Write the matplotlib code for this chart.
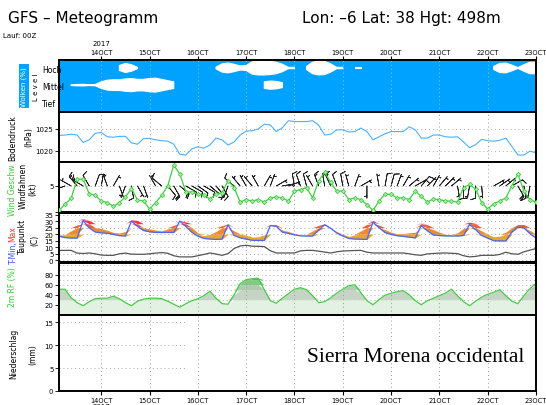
import numpy as np
import matplotlib.pyplot as plt

# forecast hours from 13OCT 00Z, 3-hourly
hours = np.arange(3, 241, 3)
day_hours = [24, 48, 72, 96, 120, 144, 168, 192, 216, 240]
day_labels = ['14OCT', '15OCT', '16OCT', '17OCT', '18OCT', '19OCT', '20OCT', '21OCT', '22OCT', '23OCT']

# cloud cover (%) per level
cloud_high = [0, 0, 0, 0, 0, 0, 0, 0, 0, 0,
              30, 55, 40, 8, 0, 0, 0, 0, 0, 0,
              0, 0, 0, 0, 0, 0, 10, 50, 60, 45,
              25, 30, 75, 85, 85, 80, 70, 45, 8, 8,
              0, 20, 70, 85, 80, 50, 8, 8, 0, 6,
              6, 0, 0, 0, 0, 0, 0, 0, 0, 0,
              0, 0, 0, 0, 0, 0, 0, 0, 0, 0,
              0, 0, 20, 55, 60, 35, 5, 40, 70, 70]
cloud_mid = [0, 0, 5, 8, 10, 5, 8, 40, 60, 65,
             65, 75, 80, 70, 70, 80, 85, 70, 55, 40,
             0, 0, 0, 0, 0, 0, 0, 0, 0, 0,
             0, 0, 0, 0, 40, 50, 45, 30, 0, 0,
             0, 0, 0, 0, 0, 0, 0, 0, 0, 0,
             0, 0, 0, 0, 0, 0, 0, 0, 0, 0,
             0, 0, 0, 0, 0, 0, 0, 0, 0, 0,
             0, 0, 0, 0, 0, 0, 0, 0, 0, 0]
cloud_low = [0] * 80

pressure = [1023.5, 1023.6, 1023.8, 1023.6, 1021.9, 1022.5, 1024.0, 1024.2, 1023.2, 1023.1,
            1023.3, 1023.3, 1021.8, 1021.5, 1022.8, 1022.8, 1022.5, 1022.3, 1022.2, 1021.5,
            1019.2, 1019.0, 1020.4, 1020.9, 1020.6, 1021.3, 1022.9, 1022.5, 1021.3, 1022.0,
            1023.6, 1024.5, 1024.6, 1025.0, 1026.1, 1025.9, 1024.4, 1025.3, 1026.9, 1026.7,
            1026.7, 1026.7, 1026.9, 1025.9, 1023.6, 1023.8, 1024.8, 1024.8, 1024.3, 1024.4,
            1025.2, 1024.4, 1022.5, 1023.2, 1023.9, 1024.4, 1024.4, 1024.4, 1025.5, 1024.8,
            1022.9, 1022.9, 1023.6, 1023.6, 1023.2, 1023.1, 1023.2, 1022.0, 1020.7, 1021.4,
            1022.6, 1022.3, 1022.2, 1022.4, 1022.9, 1021.0, 1019.0, 1019.0, 1019.9, 1019.5]

wind_speed = [0.3, 1.5, 2.6, 6.3, 6.3, 3.5, 3.2, 2.1, 1.8, 1.1,
              1.8, 2.9, 4.5, 2.3, 2.1, 0.6, 1.8, 3.2, 5.0, 9.0,
              7.3, 3.9, 3.8, 3.4, 3.2, 2.5, 3.4, 3.7, 6.0, 4.7,
              1.9, 2.4, 2.1, 2.4, 1.9, 2.7, 2.9, 2.7, 2.1, 4.0,
              4.3, 4.7, 2.7, 6.0, 7.6, 5.7, 4.0, 4.0, 2.4, 2.7,
              2.4, 1.4, 0.3, 2.1, 3.4, 3.4, 2.7, 2.7, 2.4, 4.0,
              3.0, 1.9, 2.5, 2.4, 2.1, 2.1, 1.9, 4.7, 5.3, 4.4,
              1.8, 0.6, 1.6, 2.1, 2.7, 5.0, 7.3, 4.0, 2.4, 1.9]
wind_dir = [220, 250, 300, 320, 300, 330, 20, 10, 340, 30,
            160, 200, 170, 150, 160, 320, 330, 310, 140, 150,
            130, 120, 120, 125, 120, 130, 140, 150, 200, 310,
            320, 330, 320, 330, 30, 20, 60, 80, 70, 350,
            340, 345, 330, 340, 350, 335, 340, 350, 345, 20,
            60, 180, 10, 350, 10, 15, 20, 30, 50, 60,
            40, 45, 30, 40, 45, 50, 170, 180, 190, 180,
            175, 60, 60, 55, 50, 60, 150, 170, 190, 160]

t_min = [18.3, 17.4, 17.0, 17.0, 30.4, 24.8, 21.6, 21.0, 20.7, 19.8,
         18.9, 18.6, 30.0, 26.0, 22.8, 21.8, 21.3, 21.3, 21.3, 21.3,
         30.0, 26.0, 21.4, 18.5, 16.7, 16.3, 16.0, 16.2, 27.2, 19.0,
         17.2, 16.2, 15.3, 15.2, 15.2, 26.6, 26.0, 21.5, 20.6, 19.5,
         18.7, 18.6, 18.6, 23.0, 27.2, 24.5, 20.9, 18.6, 16.7, 16.3,
         16.1, 16.0, 29.2, 25.0, 21.2, 19.8, 18.8, 18.3, 17.7, 17.1,
         26.6, 22.6, 19.4, 18.9, 18.7, 18.6, 18.6, 19.0, 27.4, 23.5,
         19.0, 17.0, 15.0, 14.8, 14.8, 21.6, 25.4, 24.8, 20.4, 17.0]
t_max = [19.5, 19.6, 22.5, 27.0, 31.7, 30.5, 25.0, 24.3, 23.0, 21.3,
         20.9, 22.0, 31.0, 30.5, 24.9, 24.0, 23.2, 22.5, 24.0, 26.8,
         30.4, 29.4, 25.0, 21.0, 18.9, 19.8, 22.0, 26.5, 27.9, 22.5,
         20.2, 19.3, 17.8, 18.0, 19.5, 27.4, 27.2, 23.2, 22.0, 20.5,
         19.0, 19.5, 22.5, 26.8, 27.9, 24.6, 22.0, 20.0, 18.3, 19.5,
         22.5, 27.5, 30.4, 27.0, 23.5, 21.5, 20.4, 20.5, 21.0, 21.5,
         28.4, 27.3, 23.5, 21.5, 19.8, 19.2, 21.0, 24.5, 29.2, 28.2,
         22.5, 20.0, 18.0, 18.5, 21.5, 25.0, 27.4, 27.4, 22.8, 18.9]
dewpoint = [7.6, 7.6, 7.6, 5.5, 5.2, 5.6, 5.0, 4.0, 3.8, 3.8,
            5.0, 5.5, 4.7, 4.6, 4.6, 5.0, 5.5, 5.9, 5.4, 3.5,
            2.6, 2.6, 2.6, 3.5, 4.5, 5.6, 4.8, 3.8, 5.1, 9.0,
            11.0, 11.5, 10.8, 10.7, 10.5, 7.3, 5.6, 5.6, 5.6, 5.6,
            7.2, 7.6, 7.6, 7.0, 6.3, 5.6, 6.5, 7.1, 7.3, 7.5,
            7.6, 6.2, 5.6, 5.6, 5.6, 5.6, 5.6, 5.6, 5.0, 4.2,
            3.8, 4.9, 5.2, 5.5, 5.6, 5.4, 5.1, 3.5, 2.6, 3.0,
            3.8, 3.8, 3.8, 4.5, 6.2, 5.0, 4.6, 6.5, 7.8, 9.0]

rel_hum = [51, 51, 34, 24, 18, 26, 32, 33, 33, 37,
           32, 24, 18, 27, 31, 33, 33, 32, 27, 21,
           15, 22, 28, 32, 38, 47, 33, 22, 21, 40,
           62, 70, 72, 73, 50, 28, 23, 33, 42, 51,
           54, 50, 38, 24, 26, 34, 43, 51, 58, 60,
           44, 28, 20, 30, 39, 43, 46, 48, 40, 28,
           20, 28, 33, 38, 43, 51, 38, 26, 18, 27,
           35, 41, 45, 50, 38, 27, 22, 38, 52, 63]

fig = plt.figure(figsize=(5.46, 4.06), dpi=100)
W, H = 546.0, 406.0


def panel(top, bottom):
    ax = fig.add_axes([59 / W, 1 - bottom / H, 477 / W, (bottom - top) / H])
    ax.set_xlim(3, 240)
    ax.set_xticks(day_hours)
    ax.grid(axis='x', ls=(0, (1, 3)), color='#999999', lw=0.7)
    ax.tick_params(axis='x', length=0, labelbottom=False)
    ax.tick_params(axis='y', labelsize=5, length=3, width=0.6, pad=1)
    for s in ax.spines.values():
        s.set_linewidth(1.4)
    return ax


def hgrid(ax, levels):
    for lv in levels:
        ax.axhline(lv, ls=(0, (1, 3)), color='#aaaaaa', lw=0.7, zorder=0)


# clouds
ax1 = panel(61, 113)
ax1.set_facecolor('#00a2ff')
ax1.set_ylim(0, 3)
ax1.set_yticks([])
for centre, cov in [(2.54, cloud_high), (1.55, cloud_mid), (0.5, cloud_low)]:
    half = np.array(cov) / 100.0 * 0.95 / 2
    ax1.fill_between(hours, centre - half, centre + half, where=half > 0,
                     color='white', lw=0.8, edgecolor='white', zorder=2)
ax1.grid(axis='x', ls=(0, (1, 3)), color='#7ec8ff', lw=0.7)
ax1.xaxis.tick_top()
ax1.tick_params(axis='x', length=3, width=0.8, direction='out', labeltop=True,
                labelsize=4.8, pad=0.5)
ax1.set_xticklabels(day_labels)
fig.text(101 / W, 1 - 44 / H, '2017', fontsize=5, ha='center', va='center')
for lab, y in [('Hoch', 71), ('Mittel', 87), ('Tief', 105)]:
    fig.text(42 / W, 1 - y / H, lab, fontsize=5.5, ha='left', va='center')
fig.text(36 / W, 1 - 87 / H, 'L e v e l', fontsize=5, rotation=90, ha='center', va='center')
fig.text(24 / W, 1 - 87 / H, 'Wolken (%)', fontsize=5, rotation=90, ha='center', va='center',
         color='white', bbox=dict(facecolor='#00a2ff', edgecolor='none', pad=1.5))

# pressure
ax2 = panel(113, 163)
ax2.set_ylim(1017.4, 1028.9)
ax2.set_yticks([1020, 1025])
hgrid(ax2, [1020, 1025])
ax2.plot(hours, pressure, color='#4cb0ff', lw=0.8)
fig.text(13 / W, 1 - 138 / H, 'Bodendruck', fontsize=5.5, rotation=90, ha='center', va='center')
fig.text(29 / W, 1 - 137 / H, '(hPa)', fontsize=5.5, rotation=90, ha='center', va='center')

# wind
ax3 = panel(163, 213)
ax3.set_ylim(0, 9.6)
ax3.set_yticks([0, 5])
ax3.set_yticklabels(['', '5'])
hgrid(ax3, [5])
rad = np.deg2rad(wind_dir)
spd = np.array(wind_speed)
u = -spd * np.sin(rad)
v = -spd * np.cos(rad)
ax3.barbs(hours, np.full(len(hours), 5.0), u, v, length=4.2, lw=0.55, color='#222222',
          barb_increments=dict(half=2, full=4, flag=50), sizes=dict(emptybarb=0))
ax3.plot(hours, wind_speed, color='#44cc44', lw=0.9, marker='D', ms=2.2,
         mfc='#aaeeaa', mec='#44cc44', mew=0.6, zorder=3)
fig.text(13 / W, 1 - 189 / H, 'Wind Geschw.', fontsize=5.5, rotation=90, ha='center',
         va='center', color='#33cc33')
fig.text(23 / W, 1 - 186 / H, 'Windfahnen', fontsize=5.5, rotation=90, ha='center', va='center')
fig.text(33 / W, 1 - 189 / H, '(kt)', fontsize=5.5, rotation=90, ha='center', va='center')

# temperature
ax4 = panel(214, 263)
ax4.set_ylim(-1.3, 36.2)
ax4.set_yticks(range(0, 40, 5))
ax4.tick_params(axis='y', labelsize=5)
hgrid(ax4, range(0, 40, 5))
lo = np.array(t_min)
hi = np.array(t_max)
bands = [(-10, 20, '#e6a82a'), (20, 25, '#f08a2a'), (25, 28, '#f2603a'),
         (28, 31, '#ff3344'), (31, 40, '#dd2299')]
for b0, b1, c in bands:
    ax4.fill_between(hours, np.clip(lo, b0, b1), np.clip(hi, b0, b1), color=c, lw=0)
ax4.plot(hours, t_min, color='#4466ff', lw=0.9)
ax4.plot(hours, dewpoint, color='#555555', lw=0.9)
fig.text(13 / W, 1 - 253 / H, 'T-Min,', fontsize=5.5, rotation=90, ha='center', va='center',
         color='#3355ff')
fig.text(13 / W, 1 - 234 / H, 'Max', fontsize=5.5, rotation=90, ha='center', va='center',
         color='#ff3333')
fig.text(22 / W, 1 - 236 / H, 'Taupunkt', fontsize=5.5, rotation=90, ha='center', va='center')
fig.text(35 / W, 1 - 240 / H, '(C)', fontsize=5.5, rotation=90, ha='center', va='center')

# relative humidity
ax5 = panel(264, 316)
ax5.set_ylim(-0.6, 103.4)
ax5.set_yticks([20, 40, 60, 80])
hgrid(ax5, range(10, 101, 10))
rh = np.array(rel_hum, dtype=float)
rh_bands = [(0, 30, '#e3f1e3'), (30, 50, '#c6d4c6'), (50, 60, '#b0cbb0'),
            (60, 70, '#86c986'), (70, 100, '#4cbf4c')]
for b0, b1, c in rh_bands:
    ax5.fill_between(hours, b0, np.clip(rh, b0, b1), color=c, lw=0)
ax5.plot(hours, rel_hum, color='#44cc44', lw=0.9)
fig.text(13 / W, 1 - 287 / H, '2m RF (%)', fontsize=5.5, rotation=90, ha='center',
         va='center', color='#33cc33')

# precipitation (empty)
ax6 = panel(316, 392)
ax6.set_ylim(0, 16.6)
ax6.set_yticks([0, 5, 10, 15])
ax6.hlines([5, 10, 15], 3, 66, colors='#aaaaaa', linestyles=(0, (1, 3)), lw=0.7)
ax6.tick_params(axis='x', length=3, width=0.8, direction='out', labelbottom=True,
                labelsize=4.8, pad=1.5)
ax6.set_xticklabels(day_labels)
fig.text(101 / W, 1 - 404.5 / H, '2017', fontsize=5, ha='center', va='top')
fig.text(14 / W, 1 - 354 / H, 'Niederschlag', fontsize=5.5, rotation=90, ha='center', va='center')
fig.text(33 / W, 1 - 355 / H, '(mm)', fontsize=5.5, rotation=90, ha='center', va='center')

fig.text(307 / W, 1 - 362 / H, 'Sierra Morena occidental', fontsize=15.5,
         family='Liberation Serif', ha='left', va='baseline')

# header
fig.text(8 / W, 1 - 19 / H, 'GFS \u2013 Meteogramm', fontsize=11, ha='left', va='center')
fig.text(302 / W, 1 - 19 / H, 'Lon: \u20136 Lat: 38 Hgt: 498m', fontsize=11, ha='left', va='center')
fig.text(3 / W, 1 - 36 / H, 'Lauf: 00Z', fontsize=5, ha='left', va='center')

plt.savefig('out.png', dpi=100)
